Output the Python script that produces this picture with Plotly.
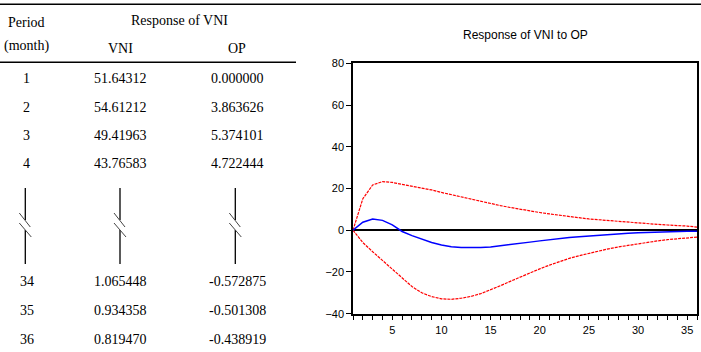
import plotly.graph_objects as go

# ---------------- data ----------------
table_periods = ["1", "2", "3", "4", "34", "35", "36"]
table_vni = ["51.64312", "54.61212", "49.41963", "43.76583", "1.065448", "0.934358", "0.819470"]
table_op = ["0.000000", "3.863626", "5.374101", "4.722444", "-0.572875", "-0.501308", "-0.438919"]

periods = list(range(1, 37))
op_response = [0.0, 3.863626, 5.374101, 4.722444, 2.6, -0.6, -2.6, -4.4, -5.9, -7.1,
               -7.9, -8.3, -8.4, -8.3, -8.0, -7.5, -6.9, -6.3, -5.7, -5.1,
               -4.5, -4.0, -3.5, -3.1, -2.7, -2.3, -2.0, -1.7, -1.45, -1.25,
               -1.05, -0.9, -0.75, -0.572875, -0.501308, -0.438919]
upper_band = [0.0, 15.1, 21.7, 23.3, 22.9, 22.0, 21.1, 20.3, 19.3, 18.1,
              17.0, 15.9, 14.8, 13.8, 12.8, 11.8, 10.9, 10.0, 9.2, 8.5,
              7.8, 7.1, 6.5, 6.0, 5.4, 5.0, 4.5, 4.1, 3.7, 3.4,
              3.1, 2.8, 2.5, 2.3, 2.0, 1.5]
lower_band = [0.0, -5.9, -10.3, -14.5, -18.9, -23.1, -27.0, -30.0, -31.8, -32.9,
              -33.1, -32.6, -31.7, -30.4, -28.6, -26.6, -24.5, -22.4, -20.4, -18.5,
              -16.7, -15.0, -13.5, -12.2, -11.0, -9.9, -8.9, -8.0, -7.2, -6.4,
              -5.7, -5.1, -4.5, -4.0, -3.6, -3.3]

chart_title = "Response of VNI to OP"
y_ticks = [-40, -20, 0, 20, 40, 60, 80]
x_ticks = [5, 10, 15, 20, 25, 30, 35]

# ---------------- layout helpers ----------------
W, H = 701, 352
def px(x):
    return x / W
def py(y):
    return 1 - y / H

fig = go.Figure()

fig.add_trace(go.Scatter(x=periods, y=upper_band, mode="lines",
                         line=dict(color="#ff0000", width=1.2, dash="3px,1px"),
                         hoverinfo="skip", showlegend=False))
fig.add_trace(go.Scatter(x=periods, y=lower_band, mode="lines",
                         line=dict(color="#ff0000", width=1.2, dash="3px,1px"),
                         hoverinfo="skip", showlegend=False))
fig.add_trace(go.Scatter(x=periods, y=op_response, mode="lines",
                         line=dict(color="#0000ff", width=1.5),
                         showlegend=False))

tick_font = dict(family="Liberation Sans, Arial", size=11, color="#000000")

fig.update_layout(
    width=W, height=H, autosize=False,
    margin=dict(l=0, r=0, t=0, b=0, autoexpand=False),
    paper_bgcolor="white", plot_bgcolor="white",
    xaxis=dict(domain=[px(353), px(697)], range=[1, 36],
               showgrid=False, zeroline=False, automargin=False,
               showline=True, linecolor="black", linewidth=1.5, mirror=True,
               tickmode="array", tickvals=x_ticks,
               ticks="outside", ticklen=5, tickcolor="black", tickwidth=1,
               minor=dict(tickmode="linear", tick0=1, dtick=1, ticks="outside",
                          ticklen=5, tickcolor="black", tickwidth=1, showgrid=False),
               tickfont=tick_font),
    yaxis=dict(domain=[py(313.7), py(63.3)], range=[-40, 80],
               showgrid=False, automargin=False,
               zeroline=True, zerolinecolor="black", zerolinewidth=1.5,
               showline=True, linecolor="black", linewidth=1.5, mirror=True,
               tickmode="array", tickvals=y_ticks,
               ticks="outside", ticklen=5, tickcolor="black", tickwidth=1,
               tickfont=tick_font),
)

annotations = []
def txt(x, y, s, size=14, family="Liberation Serif, Times New Roman, serif"):
    annotations.append(dict(x=px(x), y=py(y), xref="paper", yref="paper",
                            text=s, showarrow=False, xanchor="center", yanchor="middle",
                            font=dict(family=family, size=size, color="black")))

# chart title
txt(525, 35, chart_title, size=12, family="Liberation Sans, Arial")

# table header
txt(27, 23, "Period")
txt(27, 46.5, "(month)")
txt(179, 20.5, "Response of VNI")
txt(120, 49, "VNI")
txt(237, 49, "OP")

row_y = [79, 107.5, 135.5, 163.5, 281, 310, 339]
for i in range(len(table_periods)):
    txt(27, row_y[i], table_periods[i])
    txt(120, row_y[i], table_vni[i])
    txt(237, row_y[i], table_op[i])

shapes = []
def line(x0, y0, x1, y1, color="black", width=1.5):
    shapes.append(dict(type="line", xref="paper", yref="paper",
                       x0=px(x0), y0=py(y0), x1=px(x1), y1=py(y1),
                       line=dict(color=color, width=width)))

line(0, 4.3, W, 4.3, width=1.5)
line(0, 62.3, 296, 62.3, width=1.5)

for cx in [25.3, 120, 235.3]:
    line(cx, 188, cx, 220, width=1.3)
    line(cx, 230, cx, 264, width=1.3)
    line(cx - 6, 213, cx + 5, 227, color="#444444", width=1)
    line(cx - 6, 223, cx + 6, 237, color="#444444", width=1)

fig.update_layout(annotations=annotations, shapes=shapes)

post = ("document.documentElement.style.margin='0';"
        "document.documentElement.style.padding='0';"
        "document.body.style.margin='0';document.body.style.padding='0';"
        "document.body.style.overflow='hidden';"
        "var gd=document.getElementById('{plot_id}');"
        "gd.style.position='absolute';gd.style.top='0px';gd.style.left='0px';")
fig.write_html("out.html", post_script=post, config={"displayModeBar": False})
